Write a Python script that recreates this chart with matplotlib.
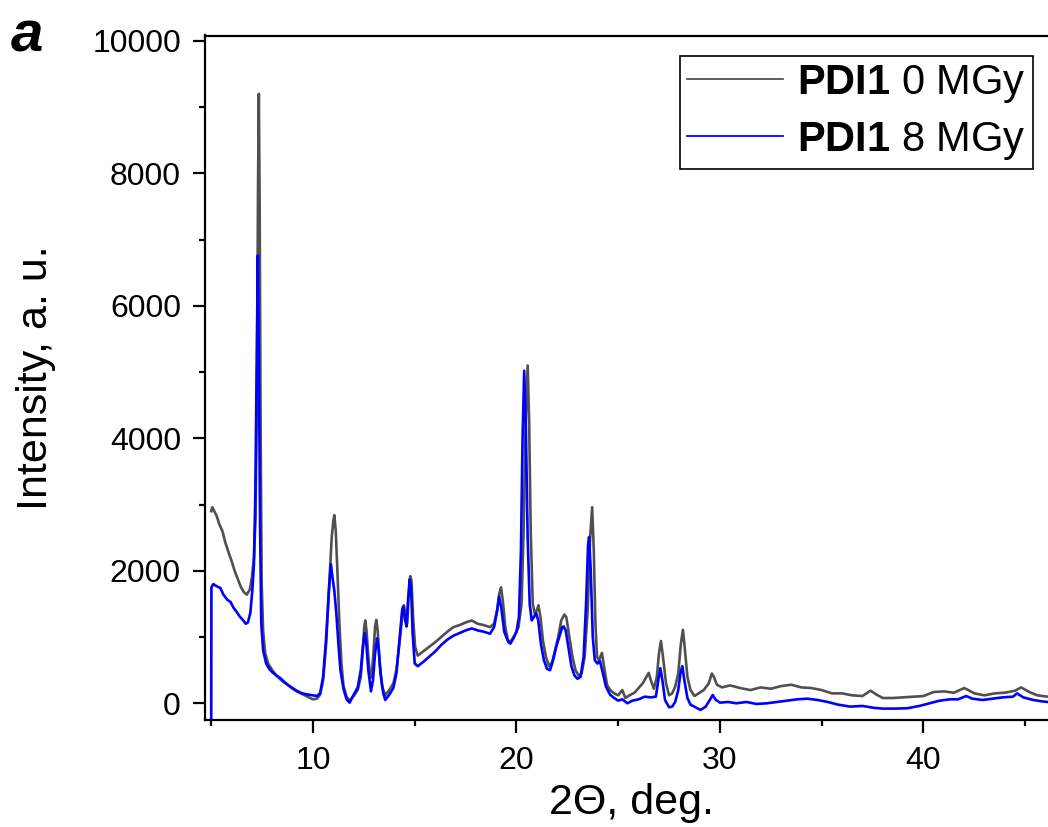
import matplotlib
matplotlib.use("Agg")
import matplotlib.pyplot as plt
from matplotlib.ticker import MultipleLocator

plt.rcParams['font.family'] = ['Liberation Sans', 'DejaVu Sans']
plt.rcParams['mathtext.fontset'] = 'custom'
plt.rcParams['mathtext.bf'] = 'Liberation Sans:bold'
plt.rcParams['mathtext.rm'] = 'Liberation Sans'

# ---- data: 0 MGy (gray) ----
x0 = [5.00, 5.05, 5.15, 5.28, 5.40, 5.55, 5.70, 5.85, 6.00, 6.15, 6.30, 6.45, 6.60, 6.75, 6.90, 7.00,
      7.10, 7.18, 7.25, 7.30, 7.34, 7.38, 7.43, 7.48, 7.55, 7.65, 7.80, 8.00, 8.20, 8.40, 8.60, 8.80,
      9.00, 9.20, 9.40, 9.60, 9.80, 10.00, 10.20, 10.35, 10.50, 10.65, 10.80, 10.92, 11.00, 11.05, 11.12,
      11.20, 11.30, 11.40, 11.50, 11.65, 11.80, 12.00, 12.20, 12.35, 12.45, 12.52, 12.57, 12.63, 12.72,
      12.82, 12.90, 12.98, 13.05, 13.11, 13.18, 13.28, 13.40, 13.55, 13.75, 13.95, 14.10, 14.25, 14.40,
      14.47, 14.57, 14.63, 14.70, 14.78, 14.84, 14.92, 15.02, 15.15, 15.40, 15.70, 16.00, 16.30, 16.60,
      16.90, 17.20, 17.50, 17.80, 18.10, 18.40, 18.70, 18.90, 19.05, 19.15, 19.24, 19.33, 19.45, 19.60,
      19.75, 19.95, 20.10, 20.25, 20.35, 20.45, 20.55, 20.62, 20.70, 20.80, 20.90, 21.00, 21.08, 21.18,
      21.30, 21.45, 21.60, 21.75, 21.90, 22.05, 22.20, 22.35, 22.45, 22.60, 22.75, 22.90, 23.05, 23.20,
      23.35, 23.50, 23.62, 23.72, 23.80, 23.88, 23.96, 24.05, 24.20, 24.30, 24.45, 24.60, 24.80, 25.00,
      25.20, 25.35, 25.55, 25.80, 26.00, 26.20, 26.35, 26.50, 26.60, 26.75, 26.90, 27.00, 27.10, 27.20,
      27.35, 27.50, 27.65, 27.80, 27.95, 28.08, 28.18, 28.28, 28.40, 28.55, 28.75, 28.95, 29.20, 29.45,
      29.60, 29.70, 29.85, 30.10, 30.50, 31.00, 31.50, 32.00, 32.50, 33.00, 33.50, 34.00, 34.50, 35.00,
      35.50, 36.00, 36.50, 37.00, 37.40, 37.70, 38.00, 38.50, 39.00, 39.50, 40.00, 40.50, 41.00, 41.50,
      42.00, 42.20, 42.50, 43.00, 43.50, 44.00, 44.50, 44.80, 45.20, 45.60, 46.10]
y0 = [2900, 2960, 2900, 2820, 2700, 2600, 2420, 2280, 2150, 2000, 1880, 1760, 1680, 1640, 1720, 1900,
      2200, 2800, 4800, 7800, 9200, 7500, 4000, 1800, 1100, 760, 600, 500, 420, 360, 310, 270,
      220, 180, 150, 120, 90, 60, 70, 130, 350, 900, 1800, 2500, 2750, 2840, 2600,
      2000, 1200, 600, 260, 100, 40, 110, 200, 400, 800, 1150, 1250, 1100, 700,
      380, 450, 800, 1150, 1260, 1100, 600, 250, 120, 200, 300, 500, 900, 1350,
      1480, 1300, 1200, 1600, 1920, 1850, 1300, 850, 720, 780, 850, 920, 1000, 1080,
      1150, 1180, 1220, 1250, 1200, 1180, 1150, 1200, 1400, 1650, 1750, 1550, 1150, 920,
      950, 1050, 1150, 1500, 2600, 4200, 5100, 4300, 2600, 1500, 1350, 1400, 1480, 1300,
      950, 700, 560, 620, 800, 1000, 1250, 1340, 1300, 1000, 700, 500, 420, 450,
      700, 1400, 2500, 2960, 2300, 1200, 700, 650, 760, 560, 280, 200, 150, 120,
      200, 80, 120, 160, 230, 300, 380, 460, 350, 220, 400, 750, 940, 700,
      300, 120, 150, 250, 450, 900, 1110, 800, 400, 200, 110, 150, 200, 300,
      450, 400, 280, 240, 270, 230, 200, 240, 220, 260, 280, 240, 230, 200,
      150, 150, 120, 110, 190, 130, 80, 80, 90, 100, 110, 170, 180, 160,
      230, 200, 150, 120, 150, 160, 190, 240, 170, 120, 100]

# ---- data: 8 MGy (blue) ----
x1 = [5.00, 5.01, 5.10, 5.25, 5.45, 5.60, 5.80, 5.95, 6.10, 6.25, 6.40, 6.55, 6.70, 6.80, 6.92, 7.02,
      7.10, 7.17, 7.23, 7.29, 7.34, 7.40, 7.46, 7.55, 7.70, 7.85, 8.00, 8.20, 8.40, 8.60, 8.80, 9.00,
      9.20, 9.40, 9.60, 9.80, 10.00, 10.20, 10.35, 10.50, 10.65, 10.78, 10.88, 10.96, 11.05, 11.15,
      11.25, 11.35, 11.50, 11.65, 11.80, 12.00, 12.20, 12.35, 12.45, 12.54, 12.62, 12.72, 12.85, 12.95,
      13.05, 13.15, 13.22, 13.32, 13.45, 13.55, 13.75, 13.95, 14.10, 14.25, 14.38, 14.43, 14.53, 14.60,
      14.67, 14.75, 14.82, 14.90, 15.00, 15.15, 15.40, 15.70, 16.00, 16.30, 16.60, 16.90, 17.20, 17.50,
      17.80, 18.10, 18.40, 18.70, 18.90, 19.05, 19.15, 19.25, 19.40, 19.55, 19.70, 19.85, 20.00, 20.12,
      20.22, 20.30, 20.38, 20.46, 20.55, 20.65, 20.75, 20.85, 20.97, 21.07, 21.20, 21.35, 21.50, 21.65,
      21.80, 21.95, 22.10, 22.25, 22.32, 22.42, 22.55, 22.70, 22.85, 23.00, 23.15, 23.30, 23.42, 23.52,
      23.57, 23.65, 23.75, 23.85, 23.98, 24.10, 24.25, 24.40, 24.60, 24.80, 25.00, 25.20, 25.45, 25.70,
      26.00, 26.30, 26.60, 26.85, 26.97, 27.07, 27.17, 27.30, 27.50, 27.65, 27.80, 27.95, 28.07, 28.15,
      28.25, 28.40, 28.55, 28.80, 29.05, 29.30, 29.50, 29.64, 29.80, 30.00, 30.40, 30.80, 31.30, 31.80,
      32.30, 32.80, 33.30, 33.80, 34.30, 34.80, 35.30, 35.80, 36.40, 37.00, 37.60, 38.00, 38.60, 39.20,
      39.80, 40.30, 40.80, 41.30, 41.70, 42.10, 42.40, 42.90, 43.40, 43.90, 44.40, 44.60, 44.90, 45.40,
      45.80, 46.10]
y1 = [-400, 1750, 1800, 1770, 1740, 1640, 1560, 1530, 1440, 1380, 1310, 1260, 1200, 1220, 1360, 1700,
      2100, 3200, 5000, 6760, 5200, 2700, 1200, 800, 600, 520, 470, 420, 380, 320, 270, 230,
      190, 160, 140, 130, 120, 110, 150, 400, 1000, 1700, 2100, 1900, 1700, 1350,
      900, 500, 220, 60, 10, 130, 240, 500, 850, 1060, 900, 500, 180, 350,
      750, 980, 850, 450, 160, 50, 130, 230, 450, 950, 1400, 1460, 1250, 1160,
      1550, 1870, 1750, 1050, 600, 560, 620, 700, 780, 880, 960, 1020, 1060, 1100,
      1130, 1100, 1080, 1050, 1150, 1400, 1610, 1450, 1080, 960, 900, 980, 1080, 1300,
      2300, 4000, 5020, 4200, 2500, 1500, 1250, 1300, 1360, 1250, 900, 650, 520, 500,
      650, 850, 1000, 1150, 1160, 1100, 850, 560, 420, 370, 400, 700, 1500, 2400,
      2510, 2000, 1000, 650, 600, 640, 450, 250, 130, 80, 40, 60, 0, 40,
      60, 100, 90, 100, 350, 530, 350, 50, -60, -50, 20, 200, 480, 560,
      350, 80, -20, -60, -100, -50, 50, 125, 50, 10, 20, 0, 20, -10,
      0, 20, 40, 60, 70, 50, 20, -20, -50, -40, -70, -80, -80, -75,
      -40, 0, 40, 60, 60, 110, 70, 50, 70, 90, 100, 150, 90, 50,
      30, 20]

labels = [r"$\bf{PDI1}$ 0 MGy", r"$\bf{PDI1}$ 8 MGy"]
colors = ["#505050", "#0000ff"]

W, H = 1048, 827
fig = plt.figure(figsize=(W / 100, H / 100), dpi=100)
left = 204.5 / W
bottom = 1 - 720 / H
top = 1 - 35.5 / H
xmin, xmax = 4.67, 46.6
ppu = 20.35
width = (xmax - xmin) * ppu / W
ax = fig.add_axes([left, bottom, width, top - bottom])

ax.plot(x0, y0, color=colors[0], lw=1.9, label=labels[0])
ax.plot(x1, y1, color=colors[1], lw=1.9, label=labels[1])

ax.set_xlim(xmin, xmax)
ax.set_ylim(-252, 10080)
ax.xaxis.set_major_locator(MultipleLocator(10))
ax.xaxis.set_minor_locator(MultipleLocator(5))
ax.yaxis.set_major_locator(MultipleLocator(2000))
ax.yaxis.set_minor_locator(MultipleLocator(1000))
for s in ax.spines.values():
    s.set_linewidth(1.6)
ax.spines['right'].set_visible(False)
ax.tick_params(which='major', direction='out', length=9, width=1.6, labelsize=23)
ax.tick_params(axis='x', which='major', pad=9.5)
ax.tick_params(axis='y', which='major', pad=8)
ax.tick_params(which='minor', direction='out', length=4.5, width=1.6)

ax.set_xlabel("2\u0398, deg.", fontsize=31, labelpad=5.5)
ax.set_ylabel("Intensity, a. u.", fontsize=31, labelpad=26)

leg = ax.legend(loc='upper right', bbox_to_anchor=(1033 / W, 1 - 56 / H),
                bbox_transform=fig.transFigure, fontsize=30, frameon=True,
                fancybox=False, framealpha=1, edgecolor='black', borderaxespad=0,
                handlelength=2.3, handletextpad=0.35, borderpad=0.17, labelspacing=0.36)
leg.get_frame().set_linewidth(1.2)
for ln in leg.get_lines():
    ln.set_linewidth(1.3)

fig.text(11 / W, 1 - 51 / H, "a", fontsize=42, fontweight='bold', fontstyle='italic',
         ha='left', va='baseline')

fig.savefig("out.png", dpi=100)
